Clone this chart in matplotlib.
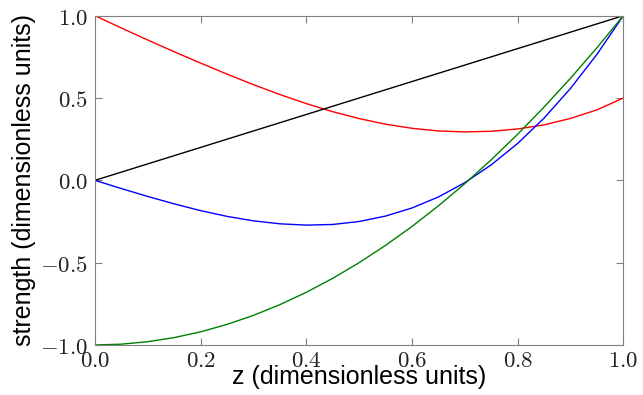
import matplotlib
matplotlib.use("Agg")
import matplotlib.pyplot as plt
from matplotlib.ticker import FuncFormatter

z = [0.0, 0.05, 0.1, 0.15, 0.2, 0.25, 0.3, 0.35, 0.4, 0.45, 0.5,
     0.55, 0.6, 0.65, 0.7, 0.75, 0.8, 0.85, 0.9, 0.95, 1.0]
red_vals = [1.0, 0.925, 0.852, 0.781, 0.712, 0.645, 0.581, 0.521, 0.466, 0.417, 0.375,
            0.341, 0.316, 0.300, 0.294, 0.298, 0.312, 0.337, 0.376, 0.428, 0.5]
blue_vals = [0.0, -0.05, -0.098, -0.143, -0.184, -0.219, -0.246, -0.264, -0.272, -0.268, -0.25,
             -0.217, -0.168, -0.101, -0.014, 0.094, 0.224, 0.378, 0.558, 0.765, 1.0]
green_vals = [-1.0, -0.995, -0.98, -0.955, -0.92, -0.875, -0.82, -0.755, -0.68, -0.595, -0.5,
              -0.395, -0.28, -0.155, -0.02, 0.125, 0.28, 0.445, 0.62, 0.805, 1.0]
black_z = [0.0, 1.0]
black_vals = [0.0, 1.0]

plt.rcParams['mathtext.fontset'] = 'cm'

fig = plt.figure(figsize=(6.43, 3.95), dpi=100)
ax = fig.add_axes([0.1477, 0.1266, 0.8217, 0.8337])

ax.plot(z, red_vals, color='#ff0000', lw=1.0)
ax.plot(z, blue_vals, color='#0000ff', lw=1.0)
ax.plot(z, green_vals, color='#008000', lw=1.0)
ax.plot(black_z, black_vals, color='k', lw=1.0)

ax.set_xlim(0, 1)
ax.set_ylim(-1, 1)
ax.set_xticks([0.0, 0.2, 0.4, 0.6, 0.8, 1.0])
ax.set_yticks([-1.0, -0.5, 0.0, 0.5, 1.0])

fmt = FuncFormatter(lambda v, p: r'$%.1f$' % v)
ax.xaxis.set_major_formatter(fmt)
ax.yaxis.set_major_formatter(fmt)

for s in ax.spines.values():
    s.set_color('#808080')
ax.tick_params(direction='in', length=5, color='#808080', labelsize=16.5,
               top=True, right=True, labelcolor='#222222')
ax.tick_params(axis='x', pad=3)
ax.tick_params(axis='y', pad=5)

ax.set_xlabel('z (dimensionless units)', fontsize=18, family='Liberation Sans')
ax.set_ylabel('strength (dimensionless units)', fontsize=18, family='Liberation Sans')
ax.xaxis.set_label_coords(0.5, -0.062)
ax.yaxis.set_label_coords(-0.111, 0.5)

fig.savefig('out.png', dpi=100)
